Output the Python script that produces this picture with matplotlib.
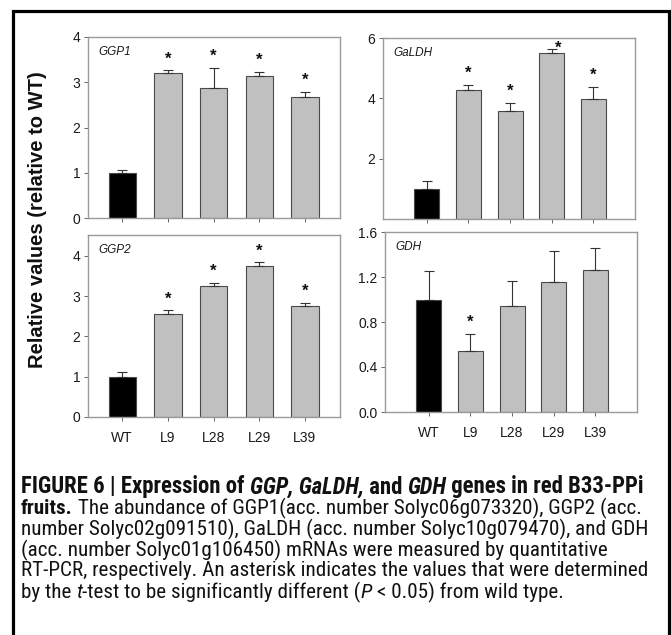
import matplotlib
matplotlib.use("Agg")
import matplotlib.pyplot as plt
import matplotlib.patches as mpatches
from matplotlib import font_manager
import numpy as np

W, H = 671, 635
DPI = 100

lines = ['WT', 'L9', 'L28', 'L29', 'L39']

ggp1 = [1.00, 3.21, 2.87, 3.14, 2.67]
ggp1_err = [0.07, 0.06, 0.45, 0.09, 0.12]
ggp1_sig = [False, True, True, True, True]

galdh = [1.00, 4.28, 3.59, 5.49, 3.99]
galdh_err = [0.26, 0.17, 0.27, 0.15, 0.39]
galdh_sig = [False, True, True, True, True]

ggp2 = [1.00, 2.55, 3.25, 3.76, 2.76]
ggp2_err = [0.12, 0.11, 0.09, 0.08, 0.08]
ggp2_sig = [False, True, True, True, True]

gdh = [1.00, 0.54, 0.94, 1.16, 1.265]
gdh_err = [0.25, 0.155, 0.225, 0.275, 0.19]
gdh_sig = [False, True, False, False, False]

plt.rcParams['font.family'] = ['Liberation Sans', 'DejaVu Sans']

available = {f.name for f in font_manager.fontManager.ttflist}
cap_family = 'Liberation Sans'
for fam in ['Liberation Sans Narrow', 'Roboto Condensed', 'Roboto']:
    if fam in available:
        cap_family = fam
        break

fig = plt.figure(figsize=(W / DPI, H / DPI), dpi=DPI)

# outer frame
frame = mpatches.Rectangle((12.5 / W, -0.02), 656.0 / W, 1.02 - 11.0 / H,
                           transform=fig.transFigure, fill=False,
                           edgecolor='black', linewidth=2.3, clip_on=False)
fig.patches.append(frame)


def px_axes(l, r, t, b):
    return fig.add_axes([l / W, 1 - b / H, (r - l) / W, (b - t) / H])


def bar_panel(ax, vals, errs, sig, name, ylim, yticks, yticklabels, xlim,
              show_xlabels, star_dx=None):
    x = np.arange(len(lines))
    colors = ['black'] + ['#c0c0c0'] * (len(lines) - 1)
    ax.bar(x, vals, width=0.6, color=colors, edgecolor='#4a4a4a', linewidth=0.8, zorder=2)
    ax.errorbar(x, vals, yerr=[np.zeros(len(vals)), errs], fmt='none',
                ecolor='#333333', elinewidth=0.8, capsize=3.5, capthick=0.8, zorder=3)
    for i, s in enumerate(sig):
        if s:
            dx = 0
            dy = 8
            if star_dx is not None and star_dx[i] != 0:
                dx = star_dx[i]
                dy = 0.5
            ax.annotate('*', (x[i], vals[i] + errs[i]), xytext=(dx, dy),
                        textcoords='offset points', ha='center', va='center',
                        fontsize=12, fontweight='bold', color='#111111',
                        annotation_clip=False)
    ax.set_xlim(*xlim)
    ax.set_ylim(*ylim)
    ax.set_yticks(yticks)
    ax.set_yticklabels(yticklabels)
    ax.set_xticks(x)
    if show_xlabels:
        ax.set_xticklabels(lines)
    else:
        ax.set_xticklabels([])
    for sp in ax.spines.values():
        sp.set_color('#9a9a9a')
        sp.set_linewidth(1.0)
    ax.tick_params(direction='out', length=3, width=0.7, color='#666666',
                   labelsize=10, labelcolor='#1a1a1a', pad=2.5)
    ax.tick_params(axis='x', pad=7)
    ax.text(0.04, 0.915, name, transform=ax.transAxes, fontsize=8.5,
            fontstyle='italic', ha='left', va='center', color='#1a1a1a')


ax1 = px_axes(88, 340, 37, 218)
bar_panel(ax1, ggp1, ggp1_err, ggp1_sig, 'GGP1', (0, 4), [0, 1, 2, 3, 4],
          ['0', '1', '2', '3', '4'], (-0.75, 4.77), False)

ax2 = px_axes(383, 635, 38, 219)
bar_panel(ax2, galdh, galdh_err, galdh_sig, 'GaLDH', (0, 6), [2, 4, 6],
          ['2', '4', '6'], (-1.05, 5.0), False, star_dx=[0, 0, 0, 5, 0])

ax3 = px_axes(88, 340, 235, 417)
bar_panel(ax3, ggp2, ggp2_err, ggp2_sig, 'GGP2', (0, 4.52), [0, 1, 2, 3, 4],
          ['0', '1', '2', '3', '4'], (-0.75, 4.77), True)

ax4 = px_axes(385, 637, 232, 412)
bar_panel(ax4, gdh, gdh_err, gdh_sig, 'GDH', (0, 1.6), [0.0, 0.4, 0.8, 1.2, 1.6],
          ['0.0', '0.4', '0.8', '1.2', '1.6'], (-1.05, 5.0), True)

fig.text(38 / W, 1 - 220 / H, 'Relative values (relative to WT)', rotation=90,
         ha='center', va='center', fontsize=14.5, fontweight='bold', color='#111111')

# caption, drawn as runs of differently styled text
N, B, I, BI = ('normal', 'normal'), ('bold', 'normal'), ('normal', 'italic'), ('bold', 'italic')
caption = [
    [("FIGURE 6 | Expression of ", B), ("GGP, GaLDH,", BI), (" and ", B), ("GDH", BI),
     (" genes in red B33-PPi", B)],
    [("fruits.", B), (" The abundance of GGP1(acc. number Solyc06g073320), GGP2 (acc.", N)],
    [("number Solyc02g091510), GaLDH (acc. number Solyc10g079470), and GDH", N)],
    [("(acc. number Solyc01g106450) mRNAs were measured by quantitative", N)],
    [("RT-PCR, respectively. An asterisk indicates the values that were determined", N)],
    [("by the ", N), ("t", I), ("-test to be significantly different (", N), ("P", I),
     (" < 0.05) from wild type.", N)],
]
line_y = [487, 508, 529, 550, 571, 592]
cap_left = 21.0

renderer = fig.canvas.get_renderer()


def run_width(s, size, style):
    t1 = fig.text(0, 0, 'x' + s + 'x', fontsize=size, fontweight=style[0],
                  fontstyle=style[1], family=cap_family)
    t2 = fig.text(0, 0, 'xx', fontsize=size, fontweight=style[0],
                  fontstyle=style[1], family=cap_family)
    w = t1.get_window_extent(renderer).width - t2.get_window_extent(renderer).width
    t1.remove()
    t2.remove()
    return w


def line_width(runs, size):
    return sum(run_width(s, size, st) for s, st in runs)


# fit the font size so the plain lines fill the text block;
# the bold heading line gets its own fit (the condensed bold runs narrower)
ref_size = 11.0
widest = max(line_width(runs, ref_size) for runs in caption[1:])
cap_size = ref_size * (648 - cap_left) / widest
head_size = min(ref_size * (644 - cap_left) / line_width(caption[0], ref_size),
                cap_size * 1.1)

for k, (runs, yy) in enumerate(zip(caption, line_y)):
    size = head_size if k == 0 else cap_size
    x = cap_left
    for s, style in runs:
        fig.text(x / W, 1 - yy / H, s, fontsize=size, fontweight=style[0],
                 fontstyle=style[1], family=cap_family, ha='left', va='center',
                 color='#111111')
        x += run_width(s, size, style)

fig.savefig('out.png', dpi=DPI)
